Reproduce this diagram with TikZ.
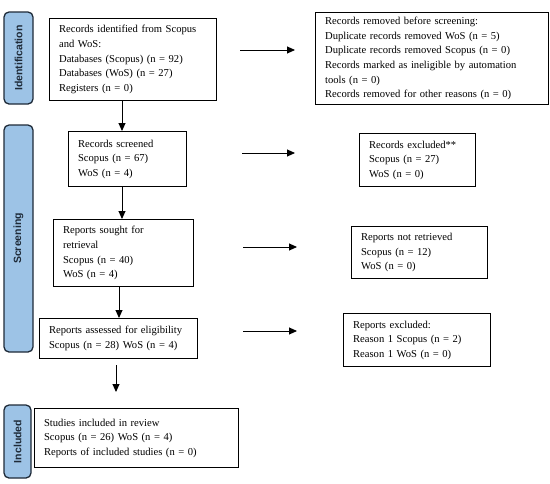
\documentclass[tikz,border=0pt]{standalone}
\usepackage{fontspec}
\setmainfont{Liberation Serif}
\setsansfont{Liberation Sans}
\usetikzlibrary{arrows.meta}
\definecolor{labfill}{RGB}{157,195,230}
\definecolor{labdraw}{RGB}{30,42,56}
\begin{document}
\begin{tikzpicture}[x=1pt,y=-1pt,
  bx/.style={draw=black, line width=1.2pt, anchor=north west, align=left,
    inner xsep=9.5pt, inner ysep=0pt,
    font=\fontsize{10.6}{14.6}\selectfont},
  lab/.style={draw=labdraw, fill=labfill, line width=1.3pt, rounded corners=5pt,
    rotate=90, inner sep=0pt, font=\sffamily\bfseries\fontsize{10.5}{12}\selectfont,
    text=labdraw},
  arr/.style={line width=0.9pt, -{Triangle[length=8pt,width=7pt]}}]
\useasboundingbox (0,0) rectangle (550,483);

% phase labels
\node[lab, minimum width=92pt, minimum height=29pt] (l1) at (18.5,58) {Identification};
\node[lab, minimum width=227pt, minimum height=29pt] (l2) at (18.5,238.5) {Screening};
\node[lab, minimum width=73pt, minimum height=27pt] (l3) at (17.5,441.5) {Included};

% left column
\node[bx, text width=148pt, minimum height=82pt] (b1) at (49,18)
  {Records identified from Scopus\\and WoS:\\Databases (Scopus) (n = 92)\\Databases (WoS) (n = 27)\\Registers (n = 0)};
\node[bx, text width=99pt, minimum height=55pt] (b3) at (68,131)
  {Records screened\\Scopus (n = 67)\\WoS (n = 4)};
\node[bx, text width=121pt, minimum height=67pt] (b4) at (53,219)
  {Reports sought for\\retrieval\\Scopus (n = 40)\\WoS (n = 4)};
\node[bx, text width=139pt, minimum height=40pt] (b5) at (39,318)
  {Reports assessed for eligibility\\Scopus (n = 28) WoS (n = 4)};
\node[bx, text width=185pt, minimum height=59pt] (b6) at (34,408)
  {Studies included in review\\Scopus (n = 26) WoS (n = 4)\\Reports of included studies (n = 0)};

% right column
\node[bx, text width=214pt, minimum height=92pt] (b2) at (315,12)
  {Records removed before screening:\\Duplicate records removed WoS (n = 5)\\Duplicate records removed Scopus (n = 0)\\Records marked as ineligible by automation\\tools (n = 0)\\Records removed for other reasons (n = 0)};
\node[bx, text width=97pt, minimum height=53pt] (e3) at (359,133)
  {Records excluded**\\Scopus (n = 27)\\WoS (n = 0)};
\node[bx, text width=117pt, minimum height=52pt] (e4) at (351,226)
  {Reports not retrieved\\Scopus (n = 12)\\WoS (n = 0)};
\node[bx, text width=128pt, minimum height=53pt] (e5) at (343,313)
  {Reports excluded:\\Reason 1 Scopus (n = 2)\\Reason 1 WoS (n = 0)};

% arrow guide coordinates
\coordinate (c1) at (122,0);
\coordinate (c2) at (119,0);
\coordinate (d1) at (116,365);
\coordinate (d2) at (116,392);
\coordinate (r1s) at (240,50);  \coordinate (r1e) at (295,50);
\coordinate (r2s) at (242,153); \coordinate (r2e) at (295,153);
\coordinate (r3s) at (243,247); \coordinate (r3e) at (297,247);
\coordinate (r4s) at (243,331); \coordinate (r4e) at (297,331);

% vertical arrows
\draw[arr] (b1.south -| c1) -- (b3.north -| c1);
\draw[arr] (b3.south -| c1) -- (b4.north -| c1);
\draw[arr] (b4.south -| c2) -- (b5.north -| c2);
\draw[arr] (d1) -- (d2);

% horizontal arrows
\draw[arr] (r1s) -- (r1e);
\draw[arr] (r2s) -- (r2e);
\draw[arr] (r3s) -- (r3e);
\draw[arr] (r4s) -- (r4e);
\end{tikzpicture}
\end{document}
